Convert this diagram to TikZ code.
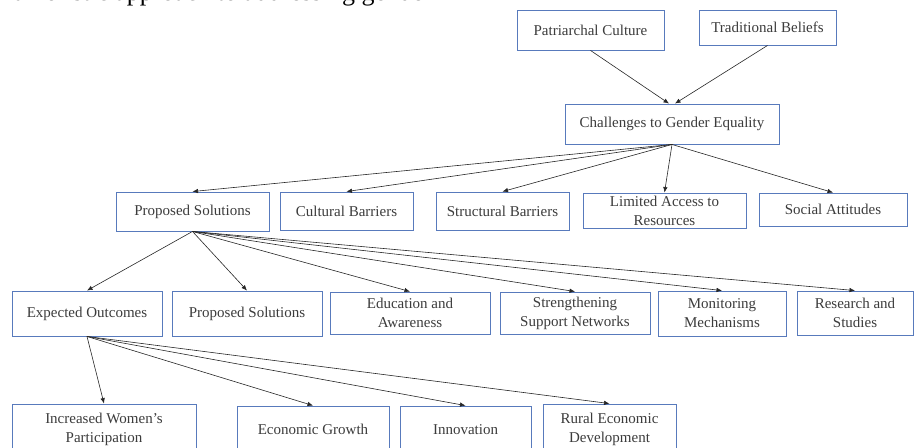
\documentclass[tikz,border=0pt]{standalone}
\usepackage{fontspec}
\setmainfont{Liberation Serif}
\usetikzlibrary{arrows.meta}
\definecolor{boxblue}{RGB}{88,122,188}
\definecolor{txtgray}{RGB}{60,60,60}
\begin{document}
\begin{tikzpicture}[x=1pt,y=-1pt,
  box/.style={draw=boxblue, line width=0.9pt, fill=white, text=txtgray,
    align=center, inner sep=0pt, font=\fontsize{15}{19}\selectfont},
  link/.style={draw=black!85, line width=0.6pt, -{Latex[length=5.5pt,width=4.5pt]}}]
\clip (0,0) rectangle (915,447);

% running text line above the chart (only its lower edge lies on the page)
\node[anchor=base west, inner sep=0pt, font=\fontsize{26}{30}\selectfont] (intro) at (14,0.3)
  {a holistic approach to addressing gender};

% root causes
\node[box, minimum width=147pt, minimum height=40pt] (pc) at (590.5,30) {Patriarchal Culture};
\node[box, minimum width=137pt, minimum height=35pt] (tb) at (767.5,27.5) {Traditional Beliefs};

% central challenge
\node[box, minimum width=214pt, minimum height=40pt] (ch) at (672,124) {Challenges to Gender Equality};

% second level
\node[box, minimum width=153pt, minimum height=39pt] (ps) at (192.5,211.5) {Proposed Solutions};
\node[box, minimum width=133pt, minimum height=38pt] (cb) at (346.5,211) {Cultural Barriers};
\node[box, minimum width=133pt, minimum height=38pt] (sb) at (502.5,211) {Structural Barriers};
\node[box, minimum width=163pt, minimum height=35pt] (la) at (664.5,210.5) {Limited Access to\\Resources};
\node[box, minimum width=148pt, minimum height=33pt] (sa) at (833,209.5) {Social Attitudes};

% third level
\node[box, minimum width=150pt, minimum height=45pt] (eo) at (87,313.5) {Expected Outcomes};
\node[box, minimum width=150pt, minimum height=45pt] (ps2) at (247,313.5) {Proposed Solutions};
\node[box, minimum width=160pt, minimum height=42pt] (ea) at (410,313) {Education and\\Awareness};
\node[box, minimum width=150pt, minimum height=42pt] (ss) at (575,313) {Strengthening\\Support Networks};
\node[box, minimum width=128pt, minimum height=45pt] (mm) at (722,313.5) {Monitoring\\Mechanisms};
\node[box, minimum width=116pt, minimum height=44pt] (rs) at (855,313) {Research and\\Studies};

% outcomes
\node[box, minimum width=184pt, minimum height=51pt] (iw) at (104,429.5) {Increased Women's\\Participation};
\node[box, minimum width=152pt, minimum height=47pt] (eg) at (313,429.5) {Economic Growth};
\node[box, minimum width=131pt, minimum height=47pt] (inn) at (465.5,429.5) {Innovation};
\node[box, minimum width=133pt, minimum height=51pt] (rd) at (609.5,429.5) {Rural Economic\\Development};

% connectors
\draw[link] (pc.south) -- ([xshift=-3pt]ch.north);
\draw[link] (tb.south) -- ([xshift=3pt]ch.north);

\foreach \t in {ps,cb,sb,la,sa}
  \draw[link] (ch.south) -- (\t.north);

\foreach \t in {eo,ps2,ea,ss,mm,rs}
  \draw[link] (ps.south) -- (\t.north);

\foreach \t in {iw,eg,inn,rd}
  \draw[link] (eo.south) -- (\t.north);
\end{tikzpicture}
\end{document}
